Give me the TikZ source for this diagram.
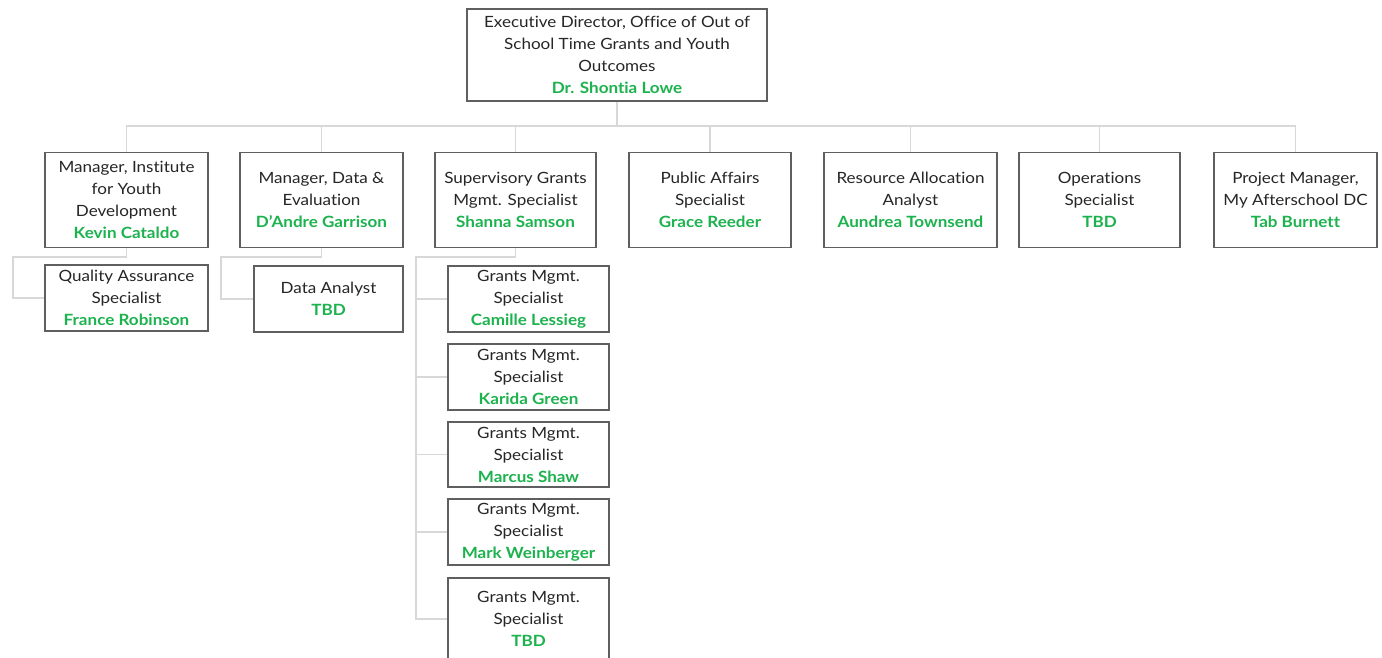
\documentclass[tikz,border=0pt]{standalone}
\usepackage{fontspec}
\setmainfont{Lato}[FakeStretch=1.1, Ligatures=NoCommon]
\definecolor{namegreen}{RGB}{28,178,78}
\definecolor{boxgray}{RGB}{95,95,95}
\definecolor{linegray}{RGB}{216,216,216}
\tikzset{
  box/.style={draw=boxgray, line width=1.1pt, fill=white, align=center, inner sep=0pt,
    font=\fontsize{15.5}{22}\selectfont, text=black!85},
  conn/.style={draw=linegray, line width=1.6pt},
}
\newcommand{\nm}[1]{{\color{namegreen}\bfseries #1}}
\begin{document}
\begin{tikzpicture}[x=1pt,y=-1pt]
\useasboundingbox[fill=white] (0,0) rectangle (1382,658);
% top
\node[box, minimum width=300pt, minimum height=92pt] (top) at (617,55)
  {Executive Director, Office of Out of\\School Time Grants and Youth\\Outcomes\\\nm{Dr. Shontia Lowe}};
% row 1
\node[box, minimum width=163pt, minimum height=95pt] (b1) at (126.5,200)
  {Manager, Institute\\for Youth\\Development\\\nm{Kevin Cataldo}};
\node[box, minimum width=163pt, minimum height=95pt] (b2) at (321.5,200)
  {Manager, Data \&\\Evaluation\\\nm{D'Andre Garrison}};
\node[box, minimum width=161pt, minimum height=95pt] (b3) at (515.5,200)
  {Supervisory Grants\\Mgmt. Specialist\\\nm{Shanna Samson}};
\node[box, minimum width=162pt, minimum height=95pt] (b4) at (710,200)
  {Public Affairs\\Specialist\\\nm{Grace Reeder}};
\node[box, minimum width=173pt, minimum height=95pt] (b5) at (910.5,200)
  {Resource Allocation\\Analyst\\\nm{Aundrea Townsend}};
\node[box, minimum width=161pt, minimum height=95pt] (b6) at (1099.5,200)
  {Operations\\Specialist\\\nm{TBD}};
\node[box, minimum width=163pt, minimum height=95pt] (b7) at (1295.5,200)
  {Project Manager,\\My Afterschool DC\\\nm{Tab Burnett}};
% row 2
\node[box, minimum width=163pt, minimum height=66pt] (qa) at (126.5,298)
  {Quality Assurance\\Specialist\\\nm{France Robinson}};
\node[box, minimum width=149pt, minimum height=66pt] (da) at (328.5,299)
  {Data Analyst\\\nm{TBD}};
\node[box, minimum width=161pt, minimum height=66pt] (g1) at (528.5,299)
  {Grants Mgmt.\\Specialist\\\nm{Camille Lessieg}};
\node[box, minimum width=161pt, minimum height=66pt] (g2) at (528.5,377)
  {Grants Mgmt.\\Specialist\\\nm{Karida Green}};
\node[box, minimum width=161pt, minimum height=65pt] (g3) at (528.5,454.5)
  {Grants Mgmt.\\Specialist\\\nm{Marcus Shaw}};
\node[box, minimum width=161pt, minimum height=66pt] (g4) at (528.5,532)
  {Grants Mgmt.\\Specialist\\\nm{Mark Weinberger}};
\node[box, minimum width=161pt, minimum height=82pt] (g5) at (528.5,619)
  {Grants Mgmt.\\Specialist\\\nm{TBD}};
% connectors
\coordinate (bus) at (617,126);
\coordinate (c1) at (13,257);
\coordinate (c2) at (221,257);
\coordinate (c3) at (416,257);
\draw[conn] (top.south) -- (top.south |- bus);
\draw[conn] (b1.north) |- (bus) -| (b7.north);
\foreach \b in {b2,b3,b4,b5,b6} \draw[conn] (\b.north) -- (\b.north |- bus);
\draw[conn] (b1.south) |- (c1) |- (qa.west);
\draw[conn] (b2.south) |- (c2) |- (da.west);
\draw[conn] (b3.south) |- (c3) |- (g5.west);
\foreach \g in {g1,g2,g3,g4} \draw[conn] (c3 |- \g.west) -- (\g.west);
\end{tikzpicture}
\end{document}
